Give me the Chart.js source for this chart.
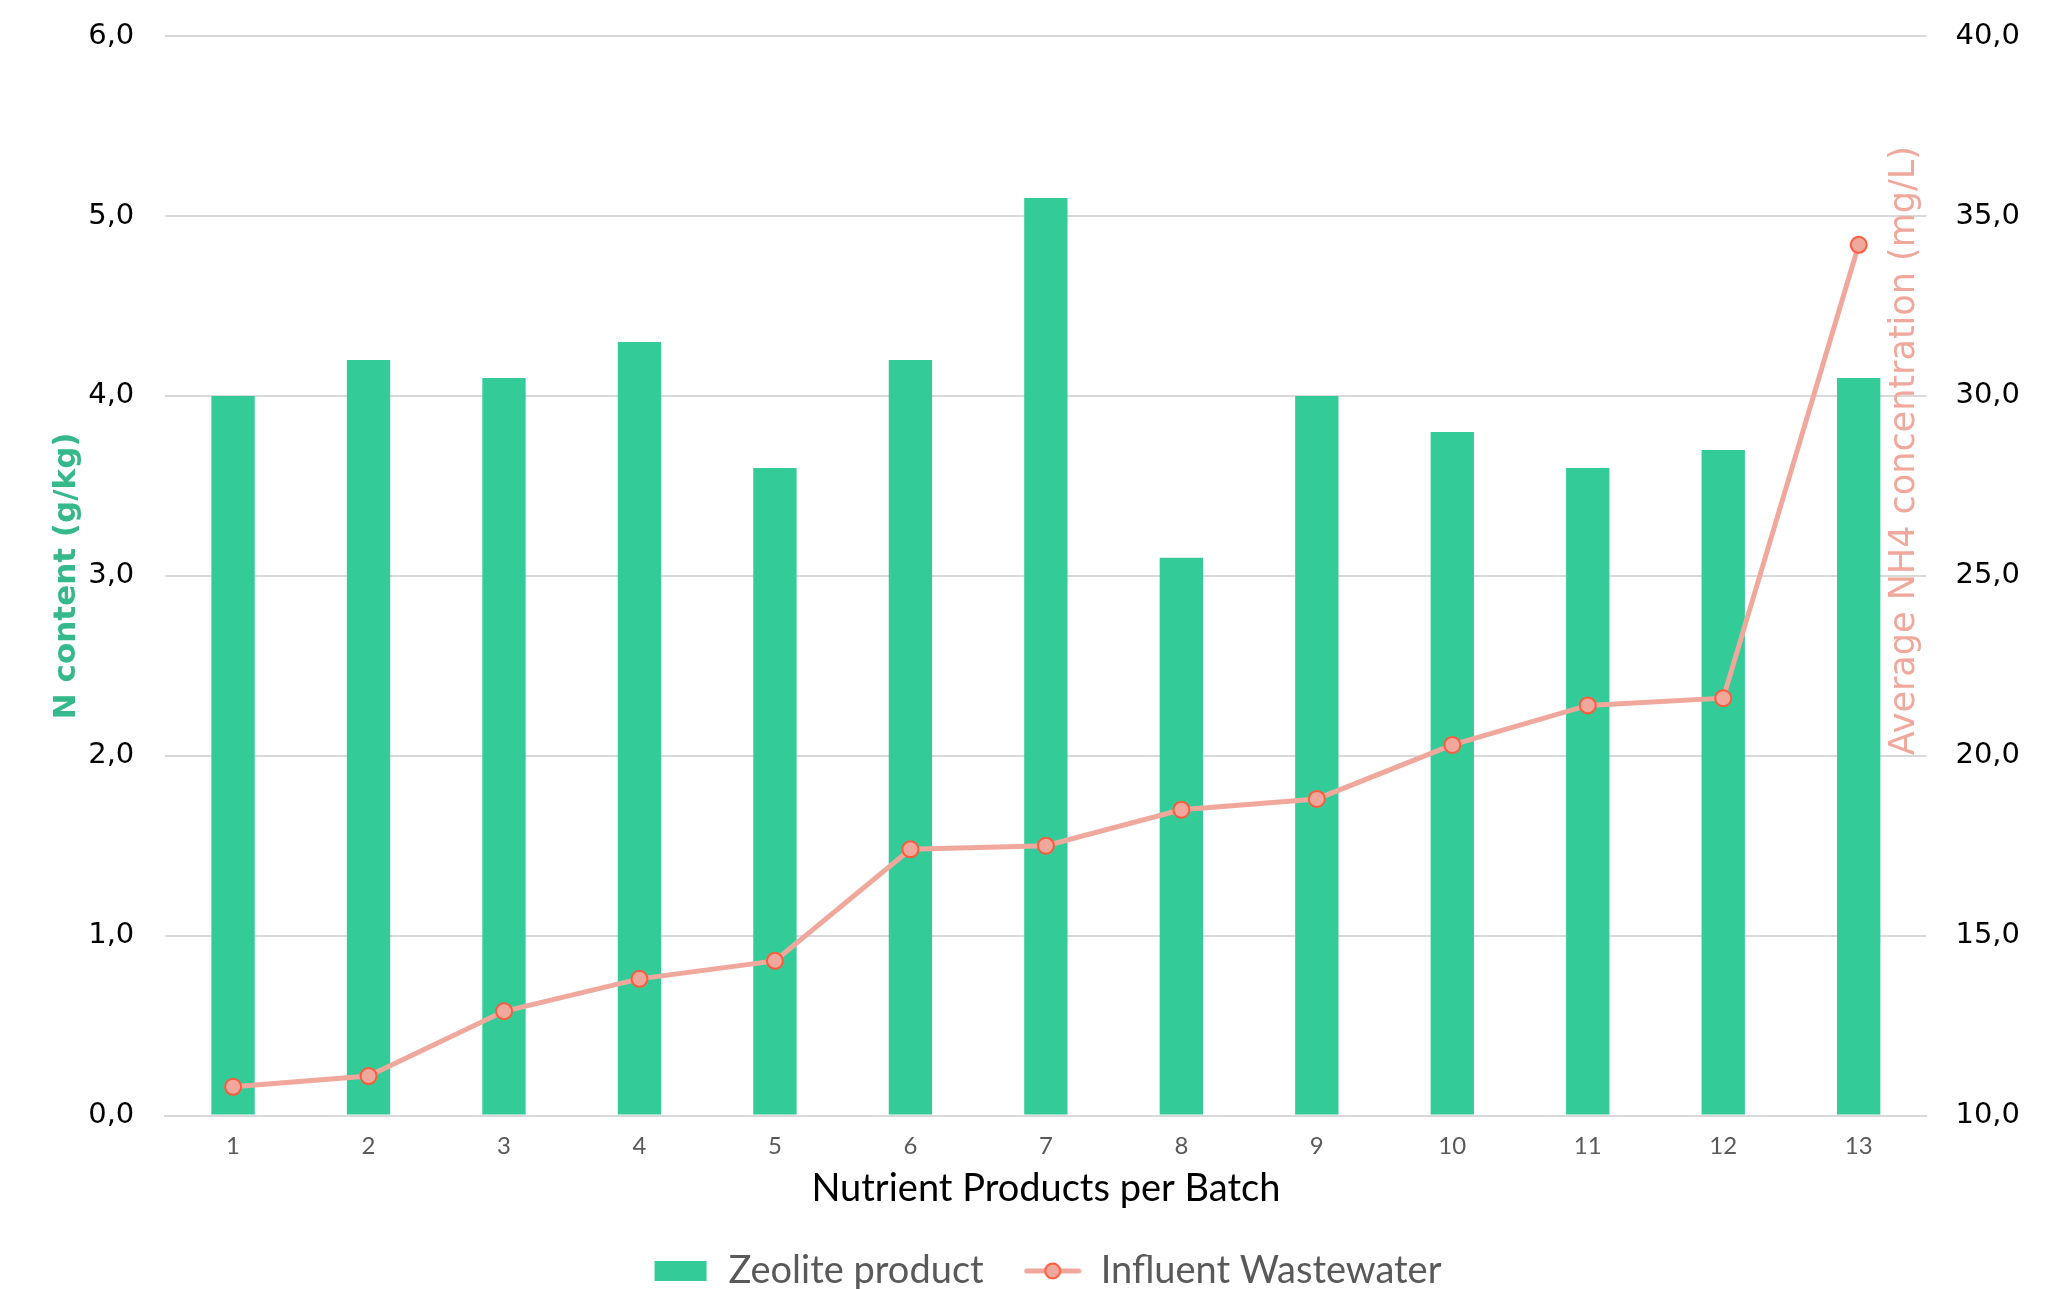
<!DOCTYPE html>
<html>
<head>
<meta charset="utf-8">
<title>N content vs influent NH4</title>
<script src="https://cdn.jsdelivr.net/npm/chart.js@4.4.1/dist/chart.umd.min.js"></script>
<style>
  html, body { margin: 0; padding: 0; background: #fff; }
  #wrap { width: 2065px; height: 1289px; }
</style>
</head>
<body>
<div id="wrap"><canvas id="chart" width="2065" height="1289"></canvas></div>
<script>
// ---------- data ----------
const batches = ['1', '2', '3', '4', '5', '6', '7', '8', '9', '10', '11', '12', '13'];
const zeoliteN = [4.0, 4.2, 4.1, 4.3, 3.6, 4.2, 5.1, 3.1, 4.0, 3.8, 3.6, 3.7, 4.1];      // g/kg
const influentNH4 = [10.8, 11.1, 12.9, 13.8, 14.3, 17.4, 17.5, 18.5, 18.8, 20.3, 21.4, 21.6, 34.2]; // mg/L

const GREEN = '#33cc99';
const GREEN_TITLE = '#35b98b';
const SALMON = '#f1a89c';
const SALMON_EDGE = '#ff5a3c';
const GRID = '#d9d9d9';
const TEXT_GREY = '#595959';

const comma = (v) => v.toFixed(1).replace('.', ',');

// ---------- legend swatches ----------
function swatchBar() {
  const c = document.createElement('canvas');
  c.width = 54; c.height = 22;
  const g = c.getContext('2d');
  g.fillStyle = GREEN;
  g.fillRect(1, 1, 52, 20);
  return c;
}
function swatchLine() {
  const c = document.createElement('canvas');
  c.width = 58; c.height = 22;
  const g = c.getContext('2d');
  g.strokeStyle = SALMON;
  g.lineWidth = 5;
  g.lineCap = 'round';
  g.beginPath(); g.moveTo(3, 11); g.lineTo(55, 11); g.stroke();
  g.beginPath(); g.arc(29, 11, 7.5, 0, Math.PI * 2);
  g.fillStyle = SALMON; g.fill();
  g.lineWidth = 2; g.strokeStyle = SALMON_EDGE; g.stroke();
  return c;
}

// right-hand axis title sits inside the plot, next to the last bar
const rightTitle = {
  id: 'rightTitle',
  afterDatasetsDraw(chart) {
    const { ctx, chartArea } = chart;
    ctx.save();
    ctx.translate(chartArea.right - 22, chartArea.top + (chartArea.bottom - chartArea.top) * 0.384);
    ctx.rotate(-Math.PI / 2);
    ctx.font = '35px "DejaVu Sans"';
    ctx.fillStyle = SALMON;
    ctx.textAlign = 'center';
    ctx.textBaseline = 'middle';
    ctx.fillText('Average NH4 concentration (mg/L)', 0, 0);
    ctx.restore();
  }
};

// small lineHeight on the value ticks keeps the plot close to the top edge
const valueTickFont = { family: 'DejaVu Sans', size: 29, lineHeight: 0.35 };

const chart = new Chart(document.getElementById('chart'), {
  data: {
    labels: batches,
    datasets: [
      {
        type: 'line',
        label: 'Influent Wastewater',
        data: influentNH4,
        yAxisID: 'y1',
        borderColor: SALMON,
        borderWidth: 5,
        pointRadius: 8,
        pointBorderWidth: 2,
        pointBackgroundColor: SALMON,
        pointBorderColor: SALMON_EDGE,
        tension: 0,
        order: 0,
      },
      {
        type: 'bar',
        label: 'Zeolite product',
        data: zeoliteN,
        yAxisID: 'y',
        backgroundColor: GREEN,
        barPercentage: 0.32,
        categoryPercentage: 1.0,
        order: 1,
      },
    ],
  },
  options: {
    responsive: false,
    animation: false,
    layout: { padding: { left: 44, right: 16, top: 10, bottom: -11 } },
    plugins: {
      tooltip: { enabled: false },
      legend: {
        position: 'bottom',
        labels: {
          usePointStyle: true,
          pointStyleWidth: 58,
          boxHeight: 22,
          padding: 40,
          color: TEXT_GREY,
          font: { family: 'Lato', size: 38 },
          generateLabels: () => [
            { text: 'Zeolite product', pointStyle: swatchBar(), fontColor: TEXT_GREY, datasetIndex: 1 },
            { text: 'Influent Wastewater', pointStyle: swatchLine(), fontColor: TEXT_GREY, datasetIndex: 0 },
          ],
        },
      },
    },
    scales: {
      x: {
        grid: { display: false, drawTicks: false },
        border: { display: true, color: GRID, width: 2 },
        ticks: { color: TEXT_GREY, font: { family: 'Lato', size: 24 }, padding: 16 },
        title: {
          display: true,
          text: 'Nutrient Products per Batch',
          color: '#000',
          font: { family: 'Lato', size: 38 },
          padding: { top: -10, bottom: 0 },
        },
      },
      y: {
        position: 'left',
        min: 0,
        max: 6,
        grid: { color: GRID, lineWidth: 2, drawTicks: false },
        border: { display: false },
        ticks: {
          stepSize: 1,
          padding: 31,
          color: '#000',
          font: valueTickFont,
          callback: (v) => comma(v),
        },
        title: {
          display: true,
          text: 'N content (g/kg)',
          color: GREEN_TITLE,
          font: { family: 'DejaVu Sans', size: 31, weight: 'bold' },
          padding: { top: 4, bottom: -28 },
        },
      },
      y1: {
        position: 'right',
        min: 10,
        max: 40,
        grid: { drawOnChartArea: false, drawTicks: false },
        border: { display: false },
        ticks: {
          stepSize: 5,
          padding: 29,
          color: '#000',
          font: valueTickFont,
          callback: (v) => comma(v),
        },
      },
    },
  },
  plugins: [rightTitle],
});
</script>
</body>
</html>
